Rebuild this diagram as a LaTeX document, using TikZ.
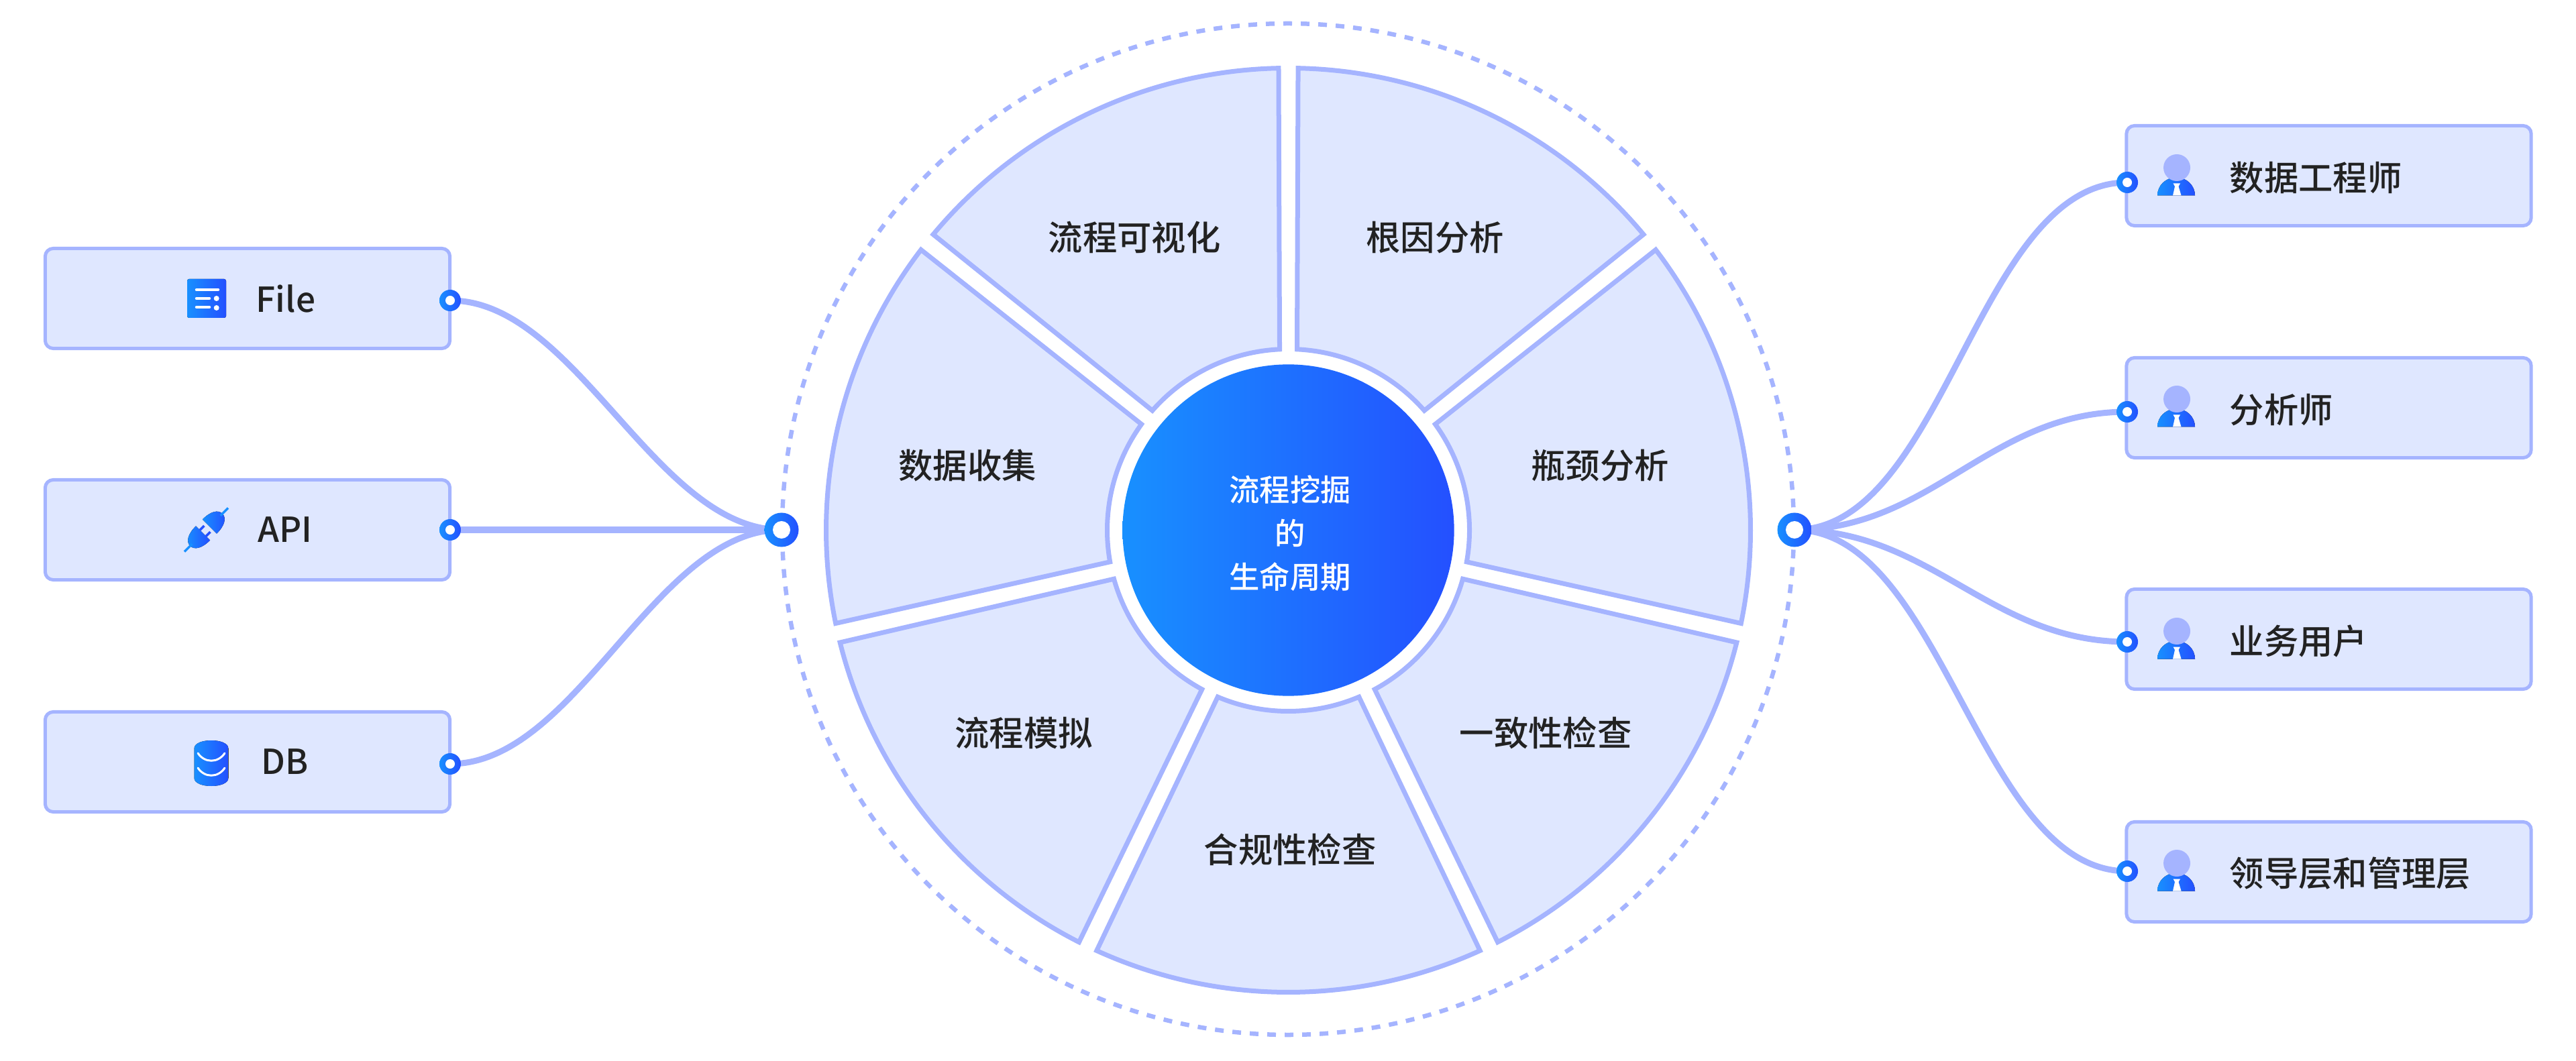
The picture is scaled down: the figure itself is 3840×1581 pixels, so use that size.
\documentclass[tikz,border=0pt]{standalone}
\usepackage{fontspec}
\usepackage{tikz}
\usepackage{xcolor}
\setmainfont{Noto Sans CJK SC Medium}
\definecolor{flaeche}{HTML}{DFE7FF}
\definecolor{linie}{HTML}{A5B4FF}
\definecolor{verlaufa}{HTML}{1890FF}
\definecolor{verlaufb}{HTML}{2450FF}
\definecolor{schrift}{HTML}{222222}
\tikzset{
verlauf/.style={left color=verlaufa, right color=verlaufb, draw=none},
kasten/.style={draw=linie, fill=flaeche, line width=.05cm, rounded corners=.12cm, minimum width=6.03cm, minimum height=1.49cm},
beschrift/.style={text=schrift, font=\fontsize{14.6}{17}\selectfont, inner sep=0pt},
anschluss/.style={circle, verlauf, inner sep=0pt, minimum size=.32cm, path picture={\fill[white] (path picture bounding box.center) circle (.07cm);}},
knoten/.style={circle, verlauf, inner sep=0pt, minimum size=.51cm, path picture={\fill[white] (path picture bounding box.center) circle (.13cm);}},
kabel/.style={draw=linie, line width=.09cm, line cap=round}
}

\begin{document}
\begin{tikzpicture}[x=.01cm,y=.01cm]
\useasboundingbox (0,0) rectangle (3840,1581);
% Mittelpunkt des Rades:
\coordinate (mitte) at (1920.5,790.5);
\coordinate (hublinks) at (1165,791);
\coordinate (hubrechts) at (2675,791);
% Gestrichelter Kreis aussen:
\draw[linie, line width=.065cm, dash pattern=on .13cm off .1303cm, dash phase=.195cm] (1920,792) circle (754);
% Sieben Segmente, jeweils um die Mittelachse:
\foreach \ang/\name in {64.29/wurzel, 12.86/engpass, -38.57/konform, -90/regel, -141.43/modell, 167.14/sammeln, 115.71/sicht}{
\draw[draw=linie, fill=flaeche, line width=.07cm, line join=miter]
([shift={(\ang+24.5:689)}]mitte) arc[start angle=\ang+24.5, end angle=\ang-24.5, radius=689]
-- ([shift={(\ang-22.95:270)}]mitte) arc[start angle=\ang-22.95, end angle=\ang+22.95, radius=270] -- cycle;
}
% Beschriftung der Segmente:
\node[beschrift] (sicht) at (1691,1227) {流程可视化};
\node[beschrift] (wurzel) at (2139,1227) {根因分析};
\node[beschrift] (sammeln) at (1442,887) {数据收集};
\node[beschrift] (engpass) at (2385,887) {瓶颈分析};
\node[beschrift] (modell) at (1526,488) {流程模拟};
\node[beschrift] (konform) at (2304,488) {一致性检查};
\node[beschrift] (regel) at (1923,314) {合规性检查};
% Kreis in der Mitte mit Verlauf:
\node[circle, verlauf, inner sep=0pt, minimum size=4.94cm] (kern) at (mitte) {};
\node[text=white, font=\fontsize{12.9}{18.5}\selectfont, align=center, inner sep=0pt] (kerntext) at (1923,786) {流程挖掘\\的\\生命周期};
% Kaesten links:
\node[kasten] (filebox) at (369,1136) {};
\node[kasten] (apibox) at (369,791) {};
\node[kasten] (dbbox) at (369,445) {};
\node[beschrift] (filetext) at (426,1136) {File};
\node[beschrift] (apitext) at (425,791) {API};
\node[beschrift] (dbtext) at (425,445) {DB};
% Kaesten rechts, mit Person:
\foreach \nr/\yk/\ytxt/\ykopf/\txt in {a/1319/1316/1331/数据工程师, b/973/970/986/分析师, c/628/625/640/业务用户, d/281/279/294/领导层和管理层}{
\node[kasten] (box\nr) at (3471.5,\yk) {};
\node[beschrift, anchor=west] (txt\nr) at (3323,\ytxt) {\txt};
\fill[verlauf] (3216,\ykopf-41.5) arc[start angle=180, end angle=0, x radius=28, y radius=27] -- cycle;
\fill[white] (3239.5,\ykopf-23.5) -- (3250,\ykopf-23.5) -- (3247.5,\ykopf-28) -- (3251.5,\ykopf-41.5) -- (3239,\ykopf-41.5) -- (3242,\ykopf-28) -- cycle;
\fill[linie] (3245,\ykopf) circle (20);
}
% Symbol Datei:
\fill[verlauf, rounded corners=.03cm] (279,1107) rectangle (337,1165);
\draw[white, line width=.045cm, line cap=round] (293,1149) -- (325,1149) (293,1136) -- (312,1136) (293,1123) -- (312,1123);
\fill[white] (322.7,1136) circle (4) (322.7,1122) circle (4);
% Symbol Stecker:
\begin{scope}[shift={(307.5,791)}, rotate=45]
\fill[verlauf] (7,-15) -- (7,15) .. controls (24,15) and (34,9) .. (34,0) .. controls (34,-9) and (24,-15) .. (7,-15) -- cycle;
\fill[verlauf] (-7,-15) -- (-7,15) .. controls (-24,15) and (-34,9) .. (-34,0) .. controls (-34,-9) and (-24,-15) .. (-7,-15) -- cycle;
\draw[verlaufb, line width=.035cm] (-7,6.5) -- (2,6.5) (-7,-6.5) -- (2,-6.5);
\draw[verlaufa, line width=.035cm] (30,0) -- (46,0) (-30,0) -- (-46,0);
\end{scope}
% Symbol Datenbank:
\fill[verlauf] (289.5,465) .. controls (289.5,481) and (340.5,481) .. (340.5,465) -- (340.5,421) .. controls (340.5,405) and (289.5,405) .. (289.5,421) -- cycle;
\draw[white, line width=.03cm, line cap=round] (295,458) .. controls (305,443) and (325,443) .. (335,458);
\draw[white, line width=.03cm, line cap=round] (295,436) .. controls (305,421) and (325,421) .. (335,436);
% Kabel links zum Knoten:
\coordinate (filepin) at (671,1133);
\coordinate (apipin) at (671,791);
\coordinate (dbpin) at (671,442);
\draw[kabel] (filepin) to [out=0, in=180, looseness=.8] (hublinks);
\draw[kabel] (apipin) -- (hublinks);
\draw[kabel] (dbpin) to [out=0, in=180, looseness=.8] (hublinks);
% Kabel rechts zum Knoten:
\coordinate (pina) at (3171,1309);
\coordinate (pinb) at (3171,967);
\coordinate (pinc) at (3171,624);
\coordinate (pind) at (3171,282);
\draw[kabel] (hubrechts) to [out=0, in=180, looseness=.8] (pina);
\draw[kabel] (hubrechts) to [out=0, in=180, looseness=1] (pinb);
\draw[kabel] (hubrechts) to [out=0, in=180, looseness=1] (pinc);
\draw[kabel] (hubrechts) to [out=0, in=180, looseness=.8] (pind);
% Anschluesse und Knoten oben drauf:
\foreach \p in {filepin, apipin, dbpin, pina, pinb, pinc, pind}{
\node[anschluss] at (\p) {};
}
\node[knoten] (hubl) at (hublinks) {};
\node[knoten] (hubr) at (hubrechts) {};
\end{tikzpicture}
\end{document}
